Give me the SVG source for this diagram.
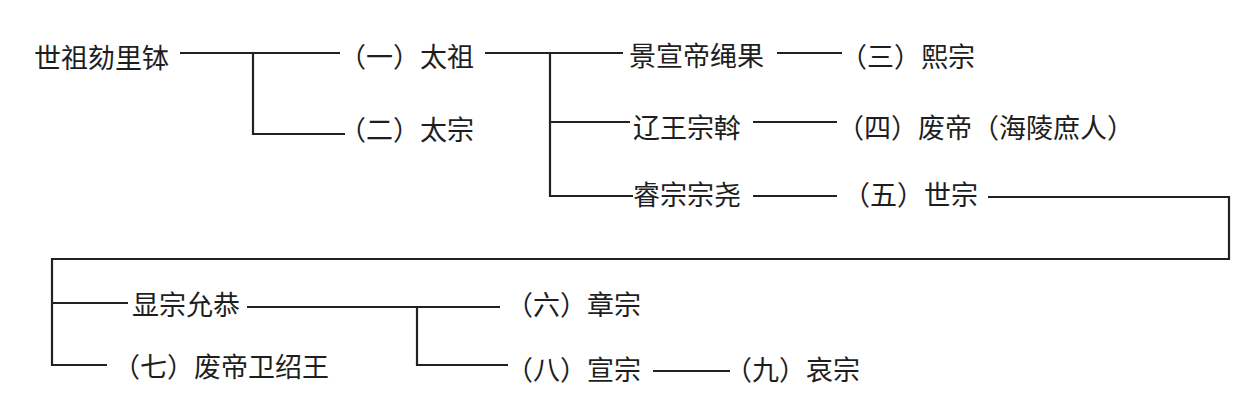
<svg xmlns="http://www.w3.org/2000/svg" width="1258" height="400" viewBox="0 0 1258 400">
<style>
  text { font-family: "Noto Sans CJK SC", "Noto Sans CJK TC", sans-serif; font-size: 27px; fill: #1e1e1e; }
  .c { fill: none; stroke: #222; stroke-width: 2.2; stroke-linecap: butt; stroke-linejoin: miter; }
</style>
<rect width="1258" height="400" fill="#ffffff"/>
<g id="connectors">
  <path class="c" d="M180 53 H340 M253 53 V134 H345"/>
  <path class="c" d="M485 53 H623 M550 53 V196 H633 M550 122 H630"/>
  <path class="c" d="M777 53 H842"/>
  <path class="c" d="M753 122 H837"/>
  <path class="c" d="M753 196 H837"/>
  <path class="c" d="M988 197 H1229 V259 H52 V365 H107 M52 303 H128"/>
  <path class="c" d="M247 307 H500 M417 307 V365 H508"/>
  <path class="c" d="M653 371 H730"/>
</g>
<g id="n-shizu"><text x="34" y="68">世祖劾里钵</text></g>
<g id="n-taizu"><text x="339" y="67">（一）太祖</text></g>
<g id="n-taizong"><text x="339" y="140">（二）太宗</text></g>
<g id="n-jingxuandi"><text x="629" y="66">景宣帝绳果</text></g>
<g id="n-liaowang"><text x="633" y="138">辽王宗斡</text></g>
<g id="n-ruizong"><text x="633" y="205">睿宗宗尧</text></g>
<g id="n-xizong"><text x="840" y="67">（三）熙宗</text></g>
<g id="n-feidi-hailing"><text x="837" y="138">（四）废帝（海陵庶人）</text></g>
<g id="n-shizong"><text x="843" y="205">（五）世宗</text></g>
<g id="n-xianzong"><text x="132" y="315">显宗允恭</text></g>
<g id="n-zhangzong"><text x="506" y="315">（六）章宗</text></g>
<g id="n-feidi-weishao"><text x="113" y="377">（七）废帝卫绍王</text></g>
<g id="n-xuanzong"><text x="506" y="380">（八）宣宗</text></g>
<g id="n-aizong"><text x="725" y="380">（九）哀宗</text></g>
</svg>
